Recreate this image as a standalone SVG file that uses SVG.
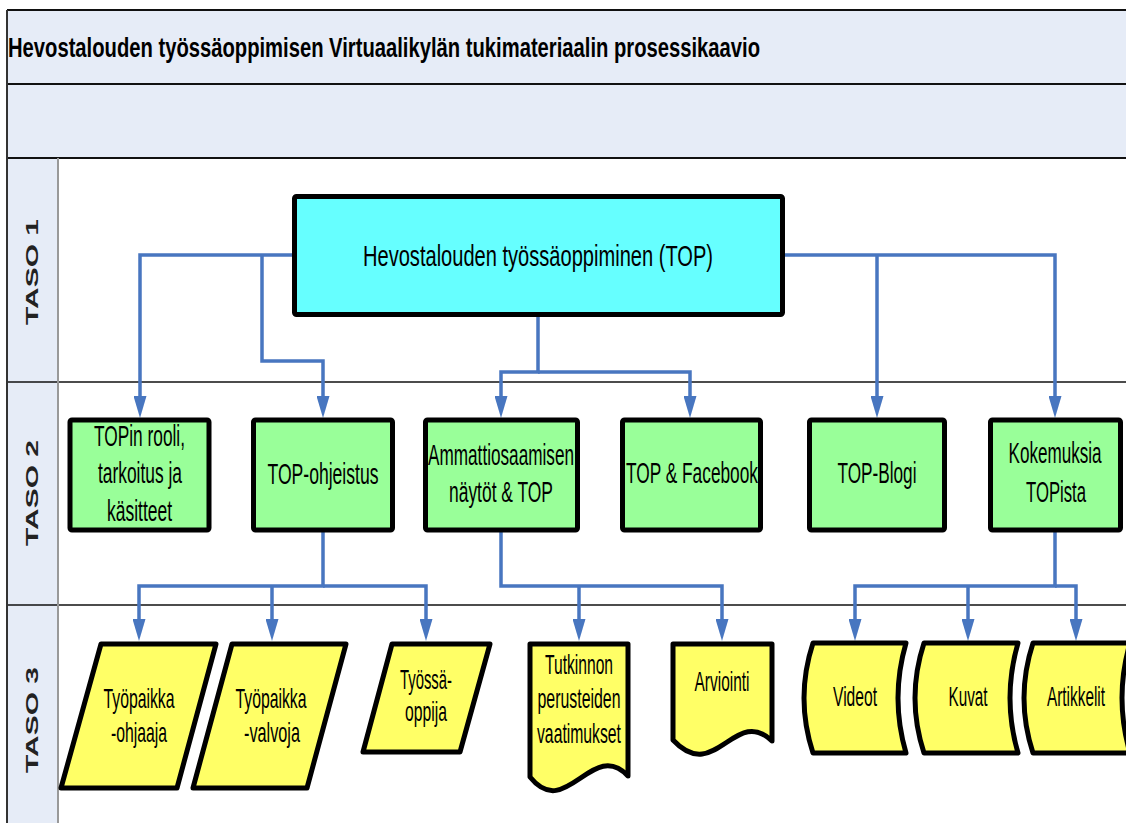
<svg xmlns="http://www.w3.org/2000/svg" width="1126" height="823" viewBox="0 0 1126 823">
<style>
.band{fill:#e6ecf7}
.sep{stroke:#111;stroke-width:2;fill:none}
.lsep{stroke:#111;stroke-width:1.5;fill:none}
.conn path{fill:none;stroke:#4876c0;stroke-width:3.5;stroke-linejoin:miter}
.n{stroke:#000;stroke-width:5;stroke-linejoin:round}
.top{fill:#66ffff}
.l2{fill:#99ff99}
.l3{fill:#ffff66}
text{font-family:"Liberation Sans",Arial,sans-serif;fill:#000}
.t2{font-size:30px;text-anchor:middle}
.t3{font-size:28px;text-anchor:middle}
.lane{font-size:30px;font-weight:bold;text-anchor:middle;fill:#222}
</style>
<defs>
<marker id="arr" markerUnits="userSpaceOnUse" markerWidth="22" markerHeight="13" viewBox="0 0 22 13" refX="12" refY="6.5" orient="auto">
<path d="M0,0 L22,6.5 L0,13 Z" fill="#4876c0"/>
</marker>
</defs>
<rect x="0" y="0" width="1126" height="823" fill="#fff"/>
<g id="frame">
<rect class="band" x="7" y="10" width="1125" height="148"/>
<rect class="band" x="7" y="158" width="51" height="670"/>
<line class="sep" x1="7" y1="10" x2="1126" y2="10"/>
<line class="sep" x1="7" y1="84" x2="1126" y2="84"/>
<line class="sep" x1="7" y1="158" x2="1126" y2="158"/>
<line class="lsep" x1="7" y1="382" x2="1126" y2="382"/>
<line class="lsep" x1="7" y1="605" x2="1126" y2="605"/>
<line x1="7" y1="10" x2="7" y2="823" stroke="#333" stroke-width="2"/>
<line x1="58" y1="158" x2="58" y2="823" stroke="#999" stroke-width="2"/>
<text x="8" y="57" font-size="28" font-weight="bold" textLength="752" lengthAdjust="spacingAndGlyphs">Hevostalouden työssäoppimisen Virtuaalikylän tukimateriaalin prosessikaavio</text>
<text class="lane" transform="translate(37.5,272) scale(0.58,1) rotate(-90)">TASO 1</text>
<text class="lane" transform="translate(37.5,493) scale(0.58,1) rotate(-90)">TASO 2</text>
<text class="lane" transform="translate(37.5,720) scale(0.58,1) rotate(-90)">TASO 3</text>
</g>
<g class="conn" id="connectors">
<path d="M292,255 H140 V408" marker-end="url(#arr)"/>
<path d="M262,255 V361 H323 V408" marker-end="url(#arr)"/>
<path d="M538,316 V372 H501 V408" marker-end="url(#arr)"/>
<path d="M538,372 H690 V408" marker-end="url(#arr)"/>
<path d="M784,255 H1055 V408" marker-end="url(#arr)"/>
<path d="M877,255 V408" marker-end="url(#arr)"/>
<path d="M323,532 V586 H139 V631" marker-end="url(#arr)"/>
<path d="M272,586 V631" marker-end="url(#arr)"/>
<path d="M323,586 H426 V631" marker-end="url(#arr)"/>
<path d="M501,532 V586 H722 V631" marker-end="url(#arr)"/>
<path d="M579,586 V631" marker-end="url(#arr)"/>
<path d="M1055,532 V586 H855 V631" marker-end="url(#arr)"/>
<path d="M968,586 V631" marker-end="url(#arr)"/>
<path d="M1055,586 H1076 V631" marker-end="url(#arr)"/>
</g>
<g id="n-top">
<rect class="n top" x="294.5" y="196.5" width="488" height="118" rx="2"/>
<text class="t2" x="538" y="266" textLength="350" lengthAdjust="spacingAndGlyphs">Hevostalouden työssäoppiminen (TOP)</text>
</g>
<g id="n-rooli">
<rect class="n l2" x="70" y="420" width="139" height="110" rx="2"/>
<text class="t2" x="139.5" y="446" textLength="91" lengthAdjust="spacingAndGlyphs">TOPin rooli,</text>
<text class="t2" x="140" y="483" textLength="84" lengthAdjust="spacingAndGlyphs">tarkoitus ja</text>
<text class="t2" x="139.5" y="521" textLength="65" lengthAdjust="spacingAndGlyphs">käsitteet</text>
</g>
<g id="n-ohjeistus">
<rect class="n l2" x="253.5" y="420" width="139" height="110" rx="2"/>
<text class="t2" x="323" y="484" textLength="111" lengthAdjust="spacingAndGlyphs">TOP-ohjeistus</text>
</g>
<g id="n-ammatti">
<rect class="n l2" x="425.5" y="420" width="152" height="110" rx="2"/>
<text class="t2" x="501" y="465" textLength="146" lengthAdjust="spacingAndGlyphs">Ammattiosaamisen</text>
<text class="t2" x="501" y="502" textLength="104" lengthAdjust="spacingAndGlyphs">näytöt &amp; TOP</text>
</g>
<g id="n-facebook">
<rect class="n l2" x="622.5" y="420" width="138" height="110" rx="2"/>
<text class="t2" x="692" y="483" textLength="132" lengthAdjust="spacingAndGlyphs">TOP &amp; Facebook</text>
</g>
<g id="n-blogi">
<rect class="n l2" x="809.5" y="420" width="135" height="110" rx="2"/>
<text class="t2" x="877" y="483" textLength="79" lengthAdjust="spacingAndGlyphs">TOP-Blogi</text>
</g>
<g id="n-kokemuksia">
<rect class="n l2" x="990.5" y="420" width="130" height="110" rx="2"/>
<text class="t2" x="1055" y="463" textLength="93" lengthAdjust="spacingAndGlyphs">Kokemuksia</text>
<text class="t2" x="1056" y="502" textLength="60" lengthAdjust="spacingAndGlyphs">TOPista</text>
</g>
<g id="n-ohjaaja">
<path class="n l3" d="M101,644 H216 L177,788 H61 Z"/>
<text class="t3" x="139" y="708" textLength="71" lengthAdjust="spacingAndGlyphs">Työpaikka</text>
<text class="t3" x="139" y="742" textLength="56" lengthAdjust="spacingAndGlyphs">-ohjaaja</text>
</g>
<g id="n-valvoja">
<path class="n l3" d="M232,644 H346 L307,788 H193 Z"/>
<text class="t3" x="271" y="708" textLength="71" lengthAdjust="spacingAndGlyphs">Työpaikka</text>
<text class="t3" x="272" y="742" textLength="56" lengthAdjust="spacingAndGlyphs">-valvoja</text>
</g>
<g id="n-tyossaoppija">
<path class="n l3" d="M392,644 H490 L460,752 H363 Z"/>
<text class="t3" x="426" y="689" textLength="52" lengthAdjust="spacingAndGlyphs">Työssä-</text>
<text class="t3" x="426" y="721" textLength="42" lengthAdjust="spacingAndGlyphs">oppija</text>
</g>
<g id="n-tutkinnon">
<path class="n l3" d="M530,644 H628 V776 C592,738 566,822 530,777 Z"/>
<text class="t3" x="579" y="674" textLength="68" lengthAdjust="spacingAndGlyphs">Tutkinnon</text>
<text class="t3" x="579" y="708" textLength="83" lengthAdjust="spacingAndGlyphs">perusteiden</text>
<text class="t3" x="579" y="743" textLength="84" lengthAdjust="spacingAndGlyphs">vaatimukset</text>
</g>
<g id="n-arviointi">
<path class="n l3" d="M673,644 H772 V741 C735,705 715,785 673,740 Z"/>
<text class="t3" x="722" y="691" textLength="55" lengthAdjust="spacingAndGlyphs">Arviointi</text>
</g>
<g id="n-videot">
<path class="n l3" d="M813,643 H906 Q890,698 906,753 H813 Q795,698 813,643 Z"/>
<text class="t3" x="855" y="706" textLength="44" lengthAdjust="spacingAndGlyphs">Videot</text>
</g>
<g id="n-kuvat">
<path class="n l3" d="M924,643 H1018 Q1002,698 1018,753 H924 Q906,698 924,643 Z"/>
<text class="t3" x="968" y="706" textLength="39" lengthAdjust="spacingAndGlyphs">Kuvat</text>
</g>
<g id="n-artikkelit">
<path class="n l3" d="M1033,643 H1130 Q1114,698 1130,753 H1033 Q1015,698 1033,643 Z"/>
<text class="t3" x="1076" y="706" textLength="58" lengthAdjust="spacingAndGlyphs">Artikkelit</text>
</g>
</svg>
